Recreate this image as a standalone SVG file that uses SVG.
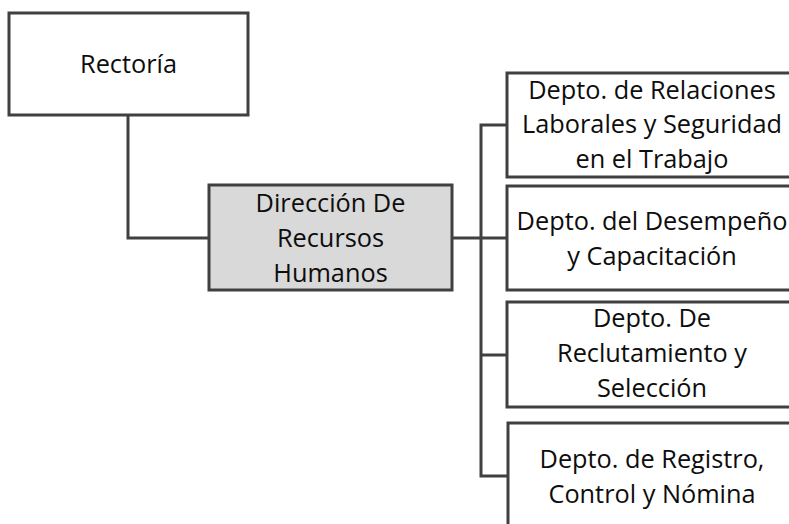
<svg xmlns="http://www.w3.org/2000/svg" width="789" height="524" viewBox="0 0 789 524">
<style>
.box{fill:#ffffff;stroke:#404040;stroke-width:3}
.grey{fill:#d9d9d9}
.lbl{font-family:"Open Sans","Liberation Sans",sans-serif;font-size:25.3px;fill:#0d0d0d;text-anchor:middle}
.conn{fill:none;stroke:#404040;stroke-width:3}
</style>
<rect width="789" height="524" fill="#ffffff"/>
<g id="connectors">
<path class="conn" d="M128,115 V238 H209"/>
<path class="conn" d="M452,238 H507"/>
<path class="conn" d="M507,125 H481 V476 H508"/>
<path class="conn" d="M481,355 H507"/>
</g>
<g id="rectoria">
<rect class="box" x="9" y="13" width="239" height="102"/>
<text class="lbl" x="128.5" y="73">Rectoría</text>
</g>
<g id="direccion">
<rect class="box grey" x="209" y="185" width="243" height="105"/>
<text class="lbl" x="330.5" y="212">Dirección De</text>
<text class="lbl" x="330.5" y="247">Recursos</text>
<text class="lbl" x="330.5" y="282">Humanos</text>
</g>
<g id="relaciones">
<rect class="box" x="507" y="73" width="290" height="104"/>
<text class="lbl" x="652" y="98.5">Depto. de Relaciones</text>
<text class="lbl" x="652" y="133">Laborales y Seguridad</text>
<text class="lbl" x="652" y="167.5">en el Trabajo</text>
</g>
<g id="desempeno">
<rect class="box" x="507" y="186" width="290" height="104"/>
<text class="lbl" x="652" y="230">Depto. del Desempeño</text>
<text class="lbl" x="652" y="265">y Capacitación</text>
</g>
<g id="reclutamiento">
<rect class="box" x="507" y="302" width="290" height="105"/>
<text class="lbl" x="652" y="327">Depto. De</text>
<text class="lbl" x="652" y="362">Reclutamiento y</text>
<text class="lbl" x="652" y="397">Selección</text>
</g>
<g id="registro">
<rect class="box" x="508" y="423" width="290" height="106"/>
<text class="lbl" x="652" y="467.5">Depto. de Registro,</text>
<text class="lbl" x="652" y="503">Control y Nómina</text>
</g>
</svg>
